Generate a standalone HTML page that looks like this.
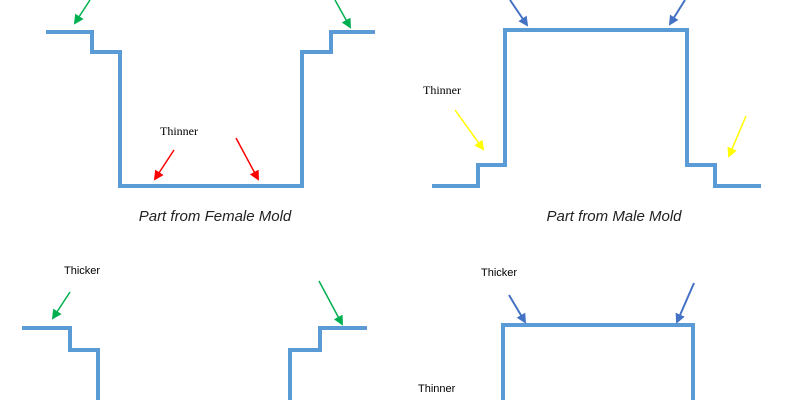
<!DOCTYPE html>
<html><head><style>body{margin:0;background:#fff}svg{display:block}</style></head><body>
<svg width="800" height="400" xmlns="http://www.w3.org/2000/svg">
<defs>
<marker id="g" markerWidth="10" markerHeight="10" refX="8" refY="5" orient="auto" markerUnits="userSpaceOnUse"><path d="M0,0 L10,5 L0,10z" fill="#00b050"/></marker>
<marker id="r" markerWidth="10" markerHeight="10" refX="8" refY="5" orient="auto" markerUnits="userSpaceOnUse"><path d="M0,0 L10,5 L0,10z" fill="#ff0000"/></marker>
<marker id="b" markerWidth="10" markerHeight="10" refX="8" refY="5" orient="auto" markerUnits="userSpaceOnUse"><path d="M0,0 L10,5 L0,10z" fill="#4472c4"/></marker>
<marker id="y" markerWidth="10" markerHeight="10" refX="8" refY="5" orient="auto" markerUnits="userSpaceOnUse"><path d="M0,0 L10,5 L0,10z" fill="#ffff00"/></marker>
</defs>
<g fill="none" stroke="#5b9bd5" stroke-width="4">
<polyline points="46,32 92,32 92,52 120,52 120,186 302,186 302,52 331,52 331,32 375,32"/>
<polyline points="432,186 478,186 478,165 505,165 505,30 687,30 687,165 715,165 715,186 761,186"/>
<polyline points="22,328 70,328 70,350 98,350 98,402"/>
<polyline points="290,402 290,350 320,350 320,328 367,328"/>
<polyline points="503,402 503,325 693,325 693,402"/>
</g>
<g stroke-width="1.5">
<line x1="90" y1="0" x2="75" y2="23" stroke="#00b050" marker-end="url(#g)"/>
<line x1="335" y1="0" x2="350" y2="27" stroke="#00b050" marker-end="url(#g)"/>
<line x1="174" y1="150" x2="155" y2="179" stroke="#ff0000" marker-end="url(#r)"/>
<line x1="236" y1="138" x2="258" y2="179" stroke="#ff0000" marker-end="url(#r)"/>
<line x1="510" y1="0" x2="527" y2="25" stroke="#4472c4" stroke-width="2" marker-end="url(#b)"/>
<line x1="685" y1="0" x2="670" y2="24" stroke="#4472c4" stroke-width="2" marker-end="url(#b)"/>
<line x1="455" y1="110" x2="483" y2="149" stroke="#ffff00" marker-end="url(#y)"/>
<line x1="746" y1="116" x2="729" y2="156" stroke="#ffff00" marker-end="url(#y)"/>
<line x1="70" y1="292" x2="53" y2="318" stroke="#00b050" marker-end="url(#g)"/>
<line x1="319" y1="281" x2="342" y2="324" stroke="#00b050" marker-end="url(#g)"/>
<line x1="509" y1="295" x2="525" y2="322" stroke="#4472c4" stroke-width="2" marker-end="url(#b)"/>
<line x1="694" y1="283" x2="677" y2="322" stroke="#4472c4" stroke-width="2" marker-end="url(#b)"/>
</g>
<g font-family="Liberation Serif, serif" font-size="12" fill="#000">
<text x="160" y="135">Thinner</text>
<text x="423" y="94">Thinner</text>
</g>
<g font-family="Liberation Sans, sans-serif" font-size="11" fill="#000">
<text x="64" y="274">Thicker</text>
<text x="481" y="276">Thicker</text>
<text x="418" y="392">Thinner</text>
</g>
<g font-family="Liberation Sans, sans-serif" font-size="15" font-style="italic" fill="#222" text-anchor="middle">
<text x="215" y="221">Part from Female Mold</text>
<text x="614" y="221">Part from Male Mold</text>
</g>
</svg>
</body></html>
